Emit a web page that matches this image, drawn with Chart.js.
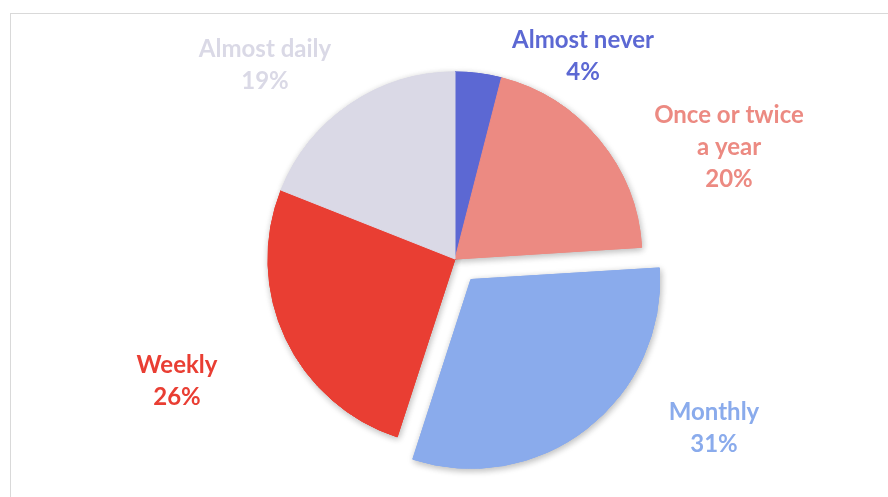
<!DOCTYPE html>
<html>
<head>
<meta charset="utf-8">
<script src="https://cdn.jsdelivr.net/npm/chart.js@4.4.0/dist/chart.umd.min.js"></script>
<style>
  html, body { margin: 0; padding: 0; background: #ffffff; overflow: hidden; }
  #wrap { position: relative; width: 888px; height: 497px; }
  #frame { position: absolute; left: 10px; top: 13px; width: 900px; height: 500px;
           border-top: 1px solid #d9d9d9; border-left: 1px solid #d9d9d9; box-sizing: border-box; }
  canvas { position: absolute; left: 0; top: 0; }
</style>
</head>
<body>
<div id="wrap">
  <div id="frame"></div>
  <canvas id="c" width="888" height="497"></canvas>
</div>
<script>
// ---- data ----
const categories = ['Almost never', 'Once or twice a year', 'Monthly', 'Weekly', 'Almost daily'];
const values = [4, 20, 31, 26, 19];
const colors = ['#5c68d3', '#ec8a82', '#8aabec', '#e93e33', '#dad9e6'];
const explode = [0, 0, 1, 0, 0];

// label anchor offsets from pie centre (first-line baseline), presentation only
const labelOffsets = {
  'Almost never': [128, -211],
  'Once or twice a year': [274, -136],
  'Monthly': [259, 161],
  'Weekly': [-278, 114],
  'Almost daily': [-190, -202]
};

const FONT = 'bold 24px Lato, "Open Sans", sans-serif';
const LINE = 32;
const WRAP = 158;

function wrapText(ctx, text, maxW) {
  const words = text.split(' ');
  const lines = [];
  let cur = '';
  for (const w of words) {
    const t = cur ? cur + ' ' + w : w;
    if (ctx.measureText(t).width > maxW && cur) { lines.push(cur); cur = w; }
    else cur = t;
  }
  if (cur) lines.push(cur);
  return lines;
}

const shadowPlugin = {
  id: 'softShadow',
  beforeDatasetsDraw(chart) {
    const ctx = chart.ctx;
    const meta = chart.getDatasetMeta(0);
    meta.data.forEach(arc => {
      ctx.save();
      ctx.shadowColor = 'rgba(0,0,0,0.28)';
      ctx.shadowBlur = 7;
      ctx.shadowOffsetX = 1;
      ctx.shadowOffsetY = 2;
      arc.draw(ctx);
      ctx.restore();
    });
  }
};

const labelPlugin = {
  id: 'sliceLabels',
  afterDatasetsDraw(chart) {
    const ctx = chart.ctx;
    const meta = chart.getDatasetMeta(0);
    const total = values.reduce((a, b) => a + b, 0);
    ctx.save();
    ctx.font = FONT;
    ctx.textAlign = 'center';
    ctx.textBaseline = 'alphabetic';
    meta.data.forEach((arc, i) => {
      const cx = arc.x, cy = arc.y;
      const off = labelOffsets[categories[i]];
      const lines = wrapText(ctx, categories[i], WRAP);
      lines.push(Math.round(values[i] / total * 100) + '%');
      ctx.fillStyle = colors[i];
      lines.forEach((ln, k) => ctx.fillText(ln, cx + off[0], cy + off[1] + k * LINE));
    });
    ctx.restore();
  }
};

new Chart(document.getElementById('c'), {
  type: 'pie',
  data: {
    labels: categories,
    datasets: [{
      data: values,
      backgroundColor: colors,
      borderColor: colors,
      borderWidth: 1,
      offset: explode.map(e => e * 104),
      hoverOffset: 0
    }]
  },
  options: {
    responsive: false,
    animation: false,
    radius: 187,
    layout: { padding: { left: 22, right: 0, top: 21, bottom: 0 } },
    plugins: { legend: { display: false }, tooltip: { enabled: false } },
    events: []
  },
  plugins: [shadowPlugin, labelPlugin]
});
</script>
</body>
</html>
